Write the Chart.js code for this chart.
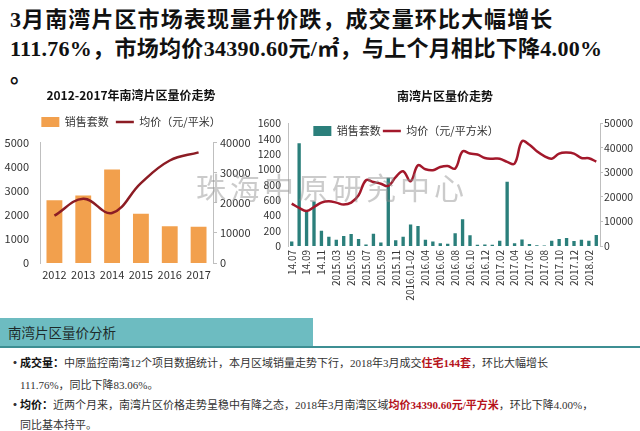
<!DOCTYPE html>
<html>
<head>
<meta charset="utf-8">
<script src="https://cdn.jsdelivr.net/npm/chart.js@4.4.0/dist/chart.umd.min.js"></script>
<style>
  body { margin:0; width:640px; height:431px; background:#fff; position:relative; overflow:hidden;
         font-family:"Noto Sans CJK SC", sans-serif; }
  .hd { position:absolute; left:10px; font:bold 22px/29px "Liberation Serif","Noto Sans CJK SC"; color:#111; white-space:nowrap; }
  #c1w { position:absolute; left:0; top:82px; }
  #c2w { position:absolute; left:250px; top:82px; }
  #wm { position:absolute; left:196px; top:168px; font:30px/36px "Noto Sans CJK SC"; color:rgba(140,140,140,.45);
        letter-spacing:4px; white-space:nowrap; }
  #band { position:absolute; left:0; top:318px; width:313px; height:28px; background:#6dbcc1; }
  #band span { position:absolute; left:8px; top:5px; font:13.5px/18px "Noto Sans CJK SC"; color:#1d2a2a; }
  #rule { position:absolute; left:0; top:346px; width:640px; height:2px; background:#3d8f93; }
  .ln { position:absolute; left:20px; font:11px/16px "Liberation Serif","Noto Sans CJK SC"; color:#333; white-space:nowrap; }
  .ln b { color:#111; }
  .ln .r { color:#b5121b; font-weight:bold; }
  .dot { position:absolute; left:9px; font:bold 12px/16px "Noto Sans CJK SC"; color:#333; }
</style>
</head>
<body>
<div class="hd" style="top:5px;letter-spacing:1.1px">3月南湾片区市场表现量升价跌，成交量环比大幅增长</div>
<div class="hd" style="top:34px;letter-spacing:0.3px">111.76%，市场均价34390.60元/㎡，与上个月相比下降4.00%</div>
<div class="hd" style="top:60px">。</div>

<div id="c1w"><canvas id="c1" width="262" height="205"></canvas></div>
<div id="c2w"><canvas id="c2" width="390" height="225"></canvas></div>
<div id="wm">珠海中原研究中心</div>

<div id="band"><span>南湾片区量价分析</span></div>
<div id="rule"></div>
<div class="dot" style="top:355px">•</div>
<div class="ln" style="top:355px"><b>成交量：</b>中原监控南湾12个项目数据统计，本月区域销量走势下行，2018年3月成交<span class="r">住宅144套</span>，环比大幅增长</div>
<div class="ln" style="top:377px">111.76%，同比下降83.06%。</div>
<div class="dot" style="top:397px">•</div>
<div class="ln" style="top:397px"><b>均价：</b>近两个月来，南湾片区价格走势呈稳中有降之态，2018年3月南湾区域<span class="r">均价34390.60元/平方米</span>，环比下降4.00%，</div>
<div class="ln" style="top:417px">同比基本持平。</div>

<script>
// ─── DATA ────────────────────────────────────────────────────────────────────
const years = ['2012', '2013', '2014', '2015', '2016', '2017'];
const yearSales = [2600, 2800, 3880, 2040, 1520, 1500];
const yearPrice = [15700, 21300, 16600, 26500, 34000, 36700];

const months = ['14.07','14.08','14.09','14.10','14.11','14.12-15.02','2015.03','2015.04','2015.05','2015.06',
  '2015.07','2015.08','2015.09','2015.10','2015.11','2015.12','2016.01-02','2016.03','2016.04','2016.05',
  '2016.06','2016.07','2016.08','2016.09','2016.10','2016.11','2016.12','2017.01','2017.02','2017.03',
  '2017.04','2017.05','2017.06','2017.07','2017.08','2017.09','2017.10','2017.11','2017.12','2018.01',
  '2018.02','2018.03'];
const monthSales = [60,1340,450,580,200,120,80,130,155,90,20,160,45,890,75,120,280,260,80,60,
  35,30,165,350,140,15,20,15,70,840,35,85,25,10,8,70,90,105,65,80,68,144];
const monthPrice = [17300,15500,14300,15900,17700,18200,17700,16900,17700,20700,26800,26100,25400,24500,
  28100,30500,26400,32900,31300,30900,32200,32600,31600,38600,37700,37300,35900,35600,35600,34300,
  33600,42700,41300,38600,36700,35600,37700,38100,37700,35900,35800,34391];

const TXT = '#333';
const AXIS = '#bfbfbf';
Chart.defaults.font.family = '"Noto Sans CJK SC", sans-serif';
Chart.defaults.animation = false;

const plain = v => String(v);
const byIndex = (a, b) => a.datasetIndex - b.datasetIndex;

// legend inside the plot area, laid out as one row
const rowLegend = {
  id: 'rowLegend',
  afterInit(chart) { if (chart.legend) chart.legend.isHorizontal = () => true; }
};

// a little more room between legend and plot
const legendGap = {
  id: 'legendGap',
  afterInit(chart) {
    const lg = chart.legend;
    if (!lg) return;
    const fit = lg.fit;
    lg.fit = function () { fit.call(this); this.height += 5; };
  }
};

// ─── LEFT: 2012-2017 ─────────────────────────────────────────────────────────
new Chart(document.getElementById('c1').getContext('2d'), {
  data: {
    labels: years,
    datasets: [
      { type:'bar', label:'销售套数', data: yearSales, backgroundColor:'#f2a04d', yAxisID:'y',
        barPercentage:0.55, categoryPercentage:1, pointStyle:'rect', order:2 },
      { type:'line', label:'均价（元/平米）', data: yearPrice, borderColor:'#8c1c24', borderWidth:2.5,
        pointRadius:0, tension:0.4, yAxisID:'y1', pointStyle:'line', order:1 }
    ]
  },
  plugins: [legendGap],
  options: {
    responsive:false,
    layout:{ padding:{ top:5 } },
    plugins: {
      title:{ display:true, text:'2012-2017年南湾片区量价走势', color:'#111',
              font:{ size:12, weight:'bold' }, padding:{ top:1, bottom:7 } },
      legend:{ labels:{ usePointStyle:true, pointStyleWidth:18, boxHeight:10, color:TXT, font:{ size:11 },
                        padding:7, sort: byIndex } },
      tooltip:{ enabled:false }
    },
    scales: {
      x:{ grid:{ display:false, drawTicks:false }, border:{ display:false },
          ticks:{ color:TXT, font:{ size:11 }, padding:5, maxRotation:0, autoSkip:false },
          afterFit(s){ s.height = 24; } },
      y:{ position:'left', min:0, max:5000, grid:{ display:false }, border:{ color:AXIS },
          ticks:{ stepSize:1000, autoSkip:false, color:TXT, font:{ size:11 }, callback: plain },
          afterFit(s){ s.width = 40; } },
      y1:{ position:'right', min:0, max:40000, grid:{ drawOnChartArea:false, tickLength:4, color:AXIS }, border:{ color:AXIS },
           ticks:{ stepSize:10000, autoSkip:false, color:TXT, font:{ size:11 }, callback: plain },
           afterFit(s){ s.width = 49; } }
    }
  }
});

// ─── RIGHT: monthly ──────────────────────────────────────────────────────────
new Chart(document.getElementById('c2').getContext('2d'), {
  data: {
    labels: months,
    datasets: [
      { type:'bar', label:'销售套数', data: monthSales, backgroundColor:'#2b7f7b', yAxisID:'y',
        barPercentage:0.45, categoryPercentage:1, pointStyle:'rect', order:2 },
      { type:'line', label:'均价（元/平方米）', data: monthPrice, borderColor:'#a3182b', borderWidth:2.5,
        pointRadius:0, tension:0.4, yAxisID:'y1', pointStyle:'line', order:1 }
    ]
  },
  plugins: [rowLegend],
  options: {
    responsive:false,
    layout:{ padding:0 },
    plugins: {
      title:{ display:true, text:'南湾片区量价走势', color:'#111',
              font:{ size:12, weight:'bold' }, padding:{ top:7, bottom:20 } },
      legend:{ position:'chartArea', align:'center',
               labels:{ usePointStyle:true, pointStyleWidth:18, boxHeight:10, color:TXT, font:{ size:11 },
                        padding:2, sort: byIndex } },
      tooltip:{ enabled:false }
    },
    scales: {
      x:{ grid:{ display:false, drawTicks:false }, border:{ display:false },
          ticks:{ color:TXT, font:{ size:10 }, autoSkip:false, minRotation:90, maxRotation:90, padding:4,
                  callback:(v, i) => i % 2 === 0 ? months[i] : '' },
          afterFit(s){ s.height = 61; } },
      y:{ position:'left', min:0, max:1600, grid:{ display:false, tickLength:4 }, border:{ color:AXIS },
          ticks:{ stepSize:200, autoSkip:false, color:TXT, font:{ size:10.5 }, callback: plain },
          afterFit(s){ s.width = 38; } },
      y1:{ position:'right', min:0, max:50000, grid:{ drawOnChartArea:false, tickLength:3, color:AXIS }, border:{ color:AXIS },
           ticks:{ stepSize:10000, autoSkip:false, color:TXT, font:{ size:10.5 }, padding:1, callback: plain },
           afterFit(s){ s.width = 40; } }
    }
  }
});
</script>
</body>
</html>
